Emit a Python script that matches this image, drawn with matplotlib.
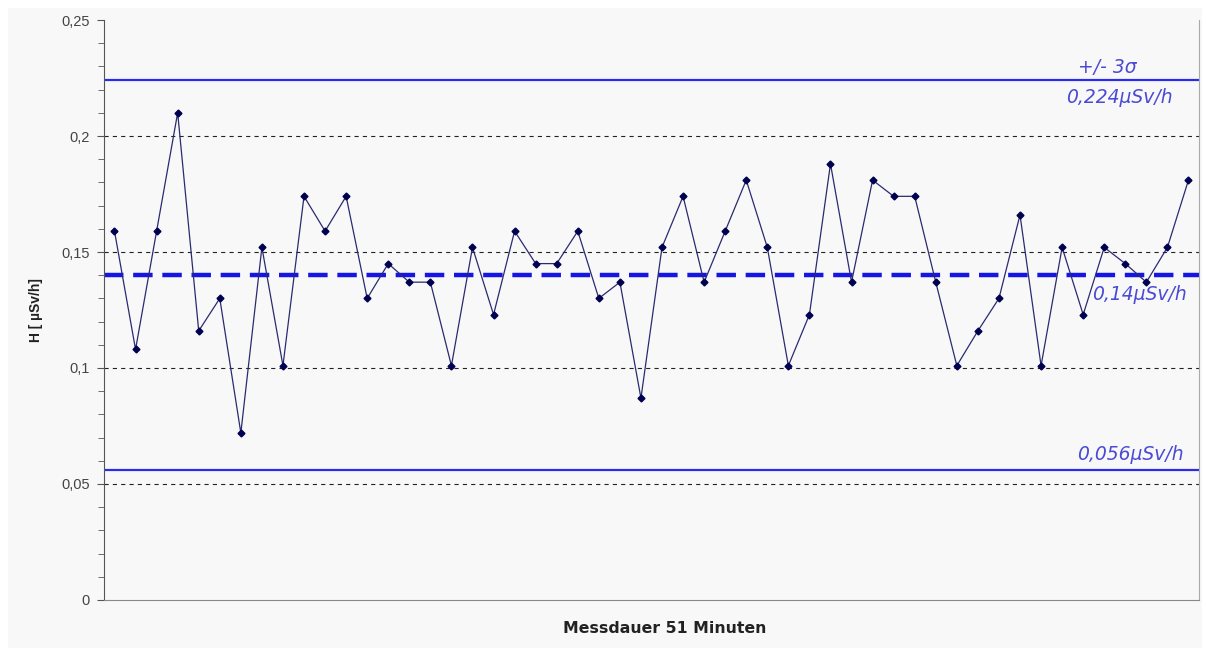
import matplotlib
matplotlib.use("Agg")
import matplotlib.pyplot as plt
from matplotlib.patches import Rectangle
from matplotlib.ticker import MultipleLocator, FuncFormatter

# measured dose rate per minute (µSv/h)
values = [0.159, 0.108, 0.159, 0.210, 0.116, 0.130, 0.072, 0.152, 0.101, 0.174,
          0.159, 0.174, 0.130, 0.145, 0.137, 0.137, 0.101, 0.152, 0.123, 0.159,
          0.145, 0.145, 0.159, 0.130, 0.137, 0.087, 0.152, 0.174, 0.137, 0.159,
          0.181, 0.152, 0.101, 0.123, 0.188, 0.137, 0.181, 0.174, 0.174, 0.137,
          0.101, 0.116, 0.130, 0.166, 0.101, 0.152, 0.123, 0.152, 0.145, 0.137,
          0.152, 0.181]

mean_val  = 0.140
upper_val = 0.224
lower_val = 0.056

plt.rcParams["font.family"] = ["Liberation Sans", "DejaVu Sans"]
plt.rcParams["lines.scale_dashes"] = False

bg = "#f8f8f8"
fig = plt.figure(figsize=(12.06, 6.48), dpi=100, facecolor="white")
# grey chart area with a thin white frame at top/left
fig.patches.append(Rectangle((8 / 1206, 0), 1 - 12 / 1206, 1 - 8 / 648,
                             transform=fig.transFigure, facecolor=bg,
                             edgecolor="none", zorder=-10))

ax = fig.add_axes([0.0862, 0.0741, 0.9080, 0.8950])
ax.set_facecolor(bg)

x = list(range(len(values)))

# grid lines
for g in [0.05, 0.1, 0.15, 0.2]:
    ax.axhline(g, color="#222222", lw=0.8, linestyle=(0, (3, 3)), zorder=1)

# control limits and mean
ax.axhline(upper_val, color="#2b2bf0", lw=1.6, zorder=2)
ax.axhline(lower_val, color="#2b2bf0", lw=1.6, zorder=2)
ax.axhline(mean_val, color="#1515e6", lw=3.2, dashes=(14, 7), zorder=2)

ax.plot(x, values, color="#2a2a70", lw=0.9, marker="D", markersize=3.5,
        markerfacecolor="#000050", markeredgecolor="#000050", zorder=3)

txt_col = "#4a4ad4"
lbl = dict(color=txt_col, fontsize=13.5, style="italic", ha="center",
           va="center", family="DejaVu Sans")
ax.text(47.13, 0.2297, "+/- 3σ", **lbl)
ax.text(47.72, 0.2166, "0,224µSv/h", **lbl)
ax.text(48.69, 0.1315, "0,14µSv/h", **lbl)
ax.text(48.22, 0.0629, "0,056µSv/h", **lbl)

ax.set_xlim(-0.5, len(values) - 0.5)
ax.set_ylim(0, 0.25)
ax.yaxis.set_major_locator(MultipleLocator(0.05))
ax.yaxis.set_minor_locator(MultipleLocator(0.01))
ax.yaxis.set_major_formatter(FuncFormatter(
    lambda v, p: "0" if abs(v) < 1e-9 else f"{v:.2f}".rstrip("0").replace(".", ",")))
ax.tick_params(axis="y", which="both", direction="out", colors="#555555",
               labelcolor="#444444", labelsize=10.5)
ax.tick_params(axis="y", which="major", length=5, pad=5)
ax.tick_params(axis="y", which="minor", length=4)
ax.set_xticks([])

ax.spines["top"].set_visible(False)
ax.spines["left"].set_color("#555555")
ax.spines["bottom"].set_color("#888888")
ax.spines["right"].set_color("#aaaaaa")

ax.set_ylabel("H [ µSv/h]", fontsize=10, fontweight="bold", color="#222222")
ax.yaxis.set_label_coords(-0.056, 0.5)
ax.set_xlabel("Messdauer 51 Minuten", fontsize=11.3, fontweight="bold",
              color="#222222", family="DejaVu Sans")
ax.xaxis.set_label_coords(0.512, -0.036)

fig.savefig("out.png", dpi=100, facecolor="white")
